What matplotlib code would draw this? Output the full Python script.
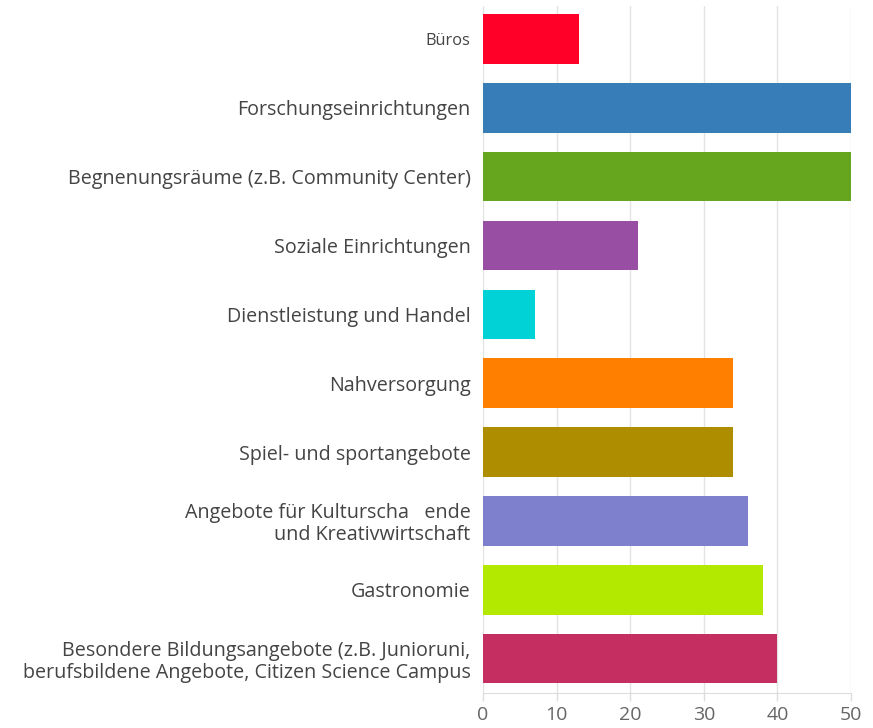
import matplotlib
matplotlib.use("Agg")
import matplotlib.pyplot as plt

plt.rcParams['font.family'] = ['Open Sans', 'DejaVu Sans']

labels = [
    "Büros",
    "Forschungseinrichtungen",
    "Begnenungsräume (z.B. Community Center)",
    "Soziale Einrichtungen",
    "Dienstleistung und Handel",
    "Nahversorgung",
    "Spiel- und sportangebote",
    "Angebote für Kulturscha   ende\nund Kreativwirtschaft",
    "Gastronomie",
    "Besondere Bildungsangebote (z.B. Junioruni,\nberufsbildene Angebote, Citizen Science Campus",
]
values = [13, 50, 50, 21, 7, 34, 34, 36, 38, 40]
colors = ["#FF0029", "#377EB8", "#66A61E", "#984EA3", "#00D2D5",
          "#FF7F00", "#AF8D00", "#7F80CD", "#B3E900", "#C42E60"]
xticks = [0, 10, 20, 30, 40, 50]

fig = plt.figure(figsize=(8.73, 7.28), dpi=100)
ax = fig.add_axes([483 / 873, 35 / 728, 368 / 873, 687 / 728])

ypos = list(range(len(labels)))
ax.barh(ypos, values, height=0.72, color=colors, zorder=3)
ax.set_ylim(len(labels) - 0.5, -0.48)
ax.set_xlim(0, 50)

ax.set_yticks(ypos)
ax.set_yticklabels(labels, color="#444444", fontsize=14.2, linespacing=1.1)
ax.get_yticklabels()[0].set_fontsize(11.8)
ax.tick_params(axis='y', length=0, pad=9)

ax.set_xticks(xticks)
ax.set_xticklabels([str(t) for t in xticks], color="#666666", fontsize=14)
ax.tick_params(axis='x', length=6, color="#dddddd", width=1, pad=3)

ax.grid(axis='x', color="#e3e3e3", linewidth=1, zorder=0)
for s in ['top', 'right', 'left']:
    ax.spines[s].set_visible(False)
ax.spines['bottom'].set_color("#dddddd")

fig.savefig("out.png", dpi=100)
